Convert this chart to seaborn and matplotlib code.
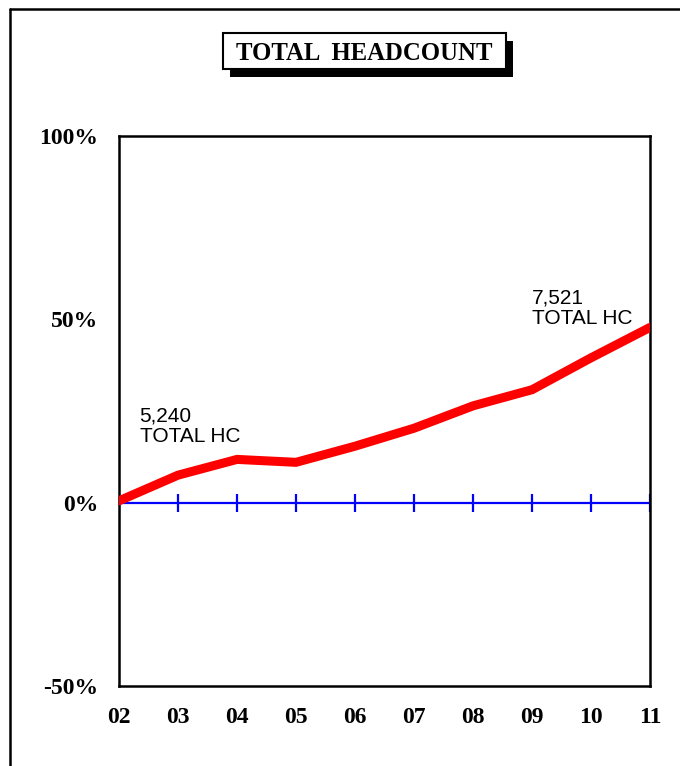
import numpy as np
import pandas as pd
import matplotlib
matplotlib.use('Agg')
import matplotlib.pyplot as plt
from matplotlib.patches import Rectangle
import seaborn as sns

# data (% change vs 2002)
years = ['02', '03', '04', '05', '06', '07', '08', '09', '10', '11']
growth = [0.5, 7.5, 11.8, 11.0, 15.4, 20.3, 26.4, 30.8, 39.5, 47.8]
y_ticks = [-50, 0, 50, 100]
y_labels = ['-50%', '0%', '50%', '100%']
start_note = '5,240\nTOTAL HC'
end_note = '7,521\nTOTAL HC'

sns.set_style('white')
plt.rcParams['text.color'] = 'black'
W, H = 680, 766
fig = plt.figure(figsize=(6.8, 7.66), dpi=100)

def fx(px):
    return px / W

def fy(py):
    return 1 - py / H

# outer frame, cut off at right and bottom
fig.add_artist(plt.Line2D([fx(10), fx(10)], [fy(9), 0], color='black', lw=1.8, transform=fig.transFigure))
fig.add_artist(plt.Line2D([fx(10), 1], [fy(9), fy(9)], color='black', lw=1.8, transform=fig.transFigure))

# title box with drop shadow
fig.add_artist(Rectangle((fx(230), fy(77)), fx(283), 36 / H, facecolor='black', edgecolor='none',
                         transform=fig.transFigure))
fig.add_artist(Rectangle((fx(223), fy(69)), fx(283), 36 / H, facecolor='white', edgecolor='black',
                         lw=1.5, transform=fig.transFigure))
fig.text(fx(364), fy(53), 'TOTAL  HEADCOUNT', ha='center', va='center', fontsize=17.8,
         fontweight='bold', family='Liberation Serif', color='black')

ax = fig.add_axes([fx(119), fy(686), fx(650 - 119), (686 - 136) / H])
x = np.arange(len(years))
df = pd.DataFrame({'x': x, 'growth': growth})

# zero line with tick marks
ax.plot(x, np.zeros(len(x)), color='#0000ff', lw=1.6, marker='|', markersize=13, mew=1.6, zorder=2)
sns.lineplot(data=df, x='x', y='growth', color='#ff0000', lw=6.5, ax=ax, zorder=3,
             solid_joinstyle='miter')

ax.set_xlim(0, len(years) - 1)
ax.set_ylim(-50, 100)
ax.set_xticks(x)
ax.set_xticklabels(years)
ax.set_yticks(y_ticks)
ax.set_yticklabels(y_labels)
ax.set_xlabel('')
ax.set_ylabel('')
ax.tick_params(length=0, pad=15, colors='black')
for lab in ax.get_xticklabels() + ax.get_yticklabels():
    lab.set_fontfamily('Liberation Serif')
    lab.set_fontweight('bold')
    lab.set_fontsize(17)
for sp in ax.spines.values():
    sp.set_visible(True)
    sp.set_color('black')
    sp.set_linewidth(1.8)

ax.text(0.35, 15.5, start_note, fontsize=15, family='Liberation Sans', va='bottom',
        linespacing=1.12, color='black')
ax.text(7.0, 47.5, end_note, fontsize=15, family='Liberation Sans', va='bottom',
        linespacing=1.12, color='black')

fig.savefig('out.png', dpi=100)
